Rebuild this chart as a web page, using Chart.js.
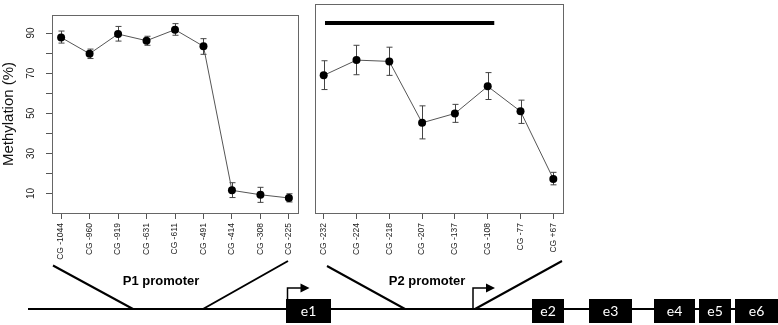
<!DOCTYPE html>
<html>
<head>
<meta charset="utf-8">
<script src="https://cdn.jsdelivr.net/npm/chart.js@4"></script>
<style>
  body { margin: 0; background: #fff; }
  #wrap { position: relative; width: 778px; height: 325px; }
  #wrap canvas { position: absolute; left: 0; top: 0; }
</style>
</head>
<body>
<div id="wrap">
  <canvas id="p1Chart" width="778" height="325"></canvas>
  <canvas id="p2Chart" width="778" height="325"></canvas>
</div>
<script>
// P1 promoter CpG sites
var p1Labels = ['CG -1044', 'CG -960', 'CG -919', 'CG -631', 'CG -611', 'CG -491', 'CG -414', 'CG -308', 'CG -225'];
var p1Mean = [87.8, 79.7, 89.5, 86.2, 91.7, 83.4, 11.6, 9.4, 7.8];
var p1Low = [85.0, 77.3, 86.0, 83.9, 88.9, 79.4, 8.0, 5.6, 5.8];
var p1High = [91.0, 82.0, 93.3, 88.4, 94.7, 87.2, 15.4, 13.1, 9.9];

// P2 promoter CpG sites
var p2Labels = ['CG -232', 'CG -224', 'CG -218', 'CG -207', 'CG -137', 'CG -108', 'CG -77', 'CG +67'];
var p2Mean = [65.3, 72.5, 71.9, 42.9, 47.3, 60.1, 48.3, 16.4];
var p2Low = [58.6, 65.6, 65.3, 35.3, 43.1, 53.9, 42.6, 13.6];
var p2High = [72.2, 79.5, 78.6, 50.9, 51.6, 66.6, 53.6, 19.5];

// black bar over the P2 sites (x in site index units, y in %)
var p2BarX = [1.04, 6.2];
var p2BarY = 90;

var yTicks = [10, 20, 30, 40, 50, 60, 70, 80, 90];
var yTickLabels = ['10', '', '30', '', '50', '', '70', '', '90'];

// gene map below the panels
var exonNames = ['e1', 'e2', 'e3', 'e4', 'e5', 'e6'];
var exonStart = [286, 532, 589, 654, 699, 735];
var exonEnd = [331, 564, 632, 695, 731, 778];

var axisGray = '#555';

function pts(vals) {
    return vals.map(function (v, i) { return { x: i + 1, y: v }; });
}

var errorBars = {
    id: 'errorBars',
    beforeDatasetsDraw: function (chart, args, opts) {
        var ctx = chart.ctx, xs = chart.scales.x, ys = chart.scales.y;
        ctx.save();
        ctx.strokeStyle = '#444';
        ctx.lineWidth = 1;
        opts.lo.forEach(function (lo, i) {
            var x = Math.round(xs.getPixelForValue(i + 1)) + 0.5;
            var y0 = ys.getPixelForValue(lo), y1 = ys.getPixelForValue(opts.hi[i]);
            ctx.beginPath();
            ctx.moveTo(x, y0); ctx.lineTo(x, y1);
            ctx.moveTo(x - 3, y0); ctx.lineTo(x + 3, y0);
            ctx.moveTo(x - 3, y1); ctx.lineTo(x + 3, y1);
            ctx.stroke();
        });
        ctx.restore();
    }
};

var boxPlugin = {
    id: 'box',
    afterDraw: function (chart) {
        var a = chart.chartArea, ctx = chart.ctx;
        ctx.save();
        ctx.strokeStyle = '#666';
        ctx.lineWidth = 1;
        ctx.strokeRect(Math.round(a.left) + 0.5, Math.round(a.top) + 0.5,
            Math.round(a.right - a.left), Math.round(a.bottom - a.top));
        ctx.restore();
    }
};

var geneMap = {
    id: 'geneMap',
    afterDraw: function (chart) {
        var ctx = chart.ctx;
        var lineY = 309;
        ctx.save();
        ctx.strokeStyle = '#000';
        ctx.lineWidth = 2;
        ctx.beginPath();
        ctx.moveTo(28, lineY); ctx.lineTo(778, lineY);
        // promoter zoom lines
        ctx.moveTo(53, 265.5); ctx.lineTo(133, lineY);
        ctx.moveTo(203, lineY); ctx.lineTo(288, 261);
        ctx.moveTo(327, 266); ctx.lineTo(405, lineY);
        ctx.moveTo(475, lineY); ctx.lineTo(562, 261);
        ctx.stroke();

        // transcription start arrows
        [[287.5, 288], [473, 288]].forEach(function (p) {
            ctx.lineWidth = 1.5;
            ctx.beginPath();
            ctx.moveTo(p[0], p[0] < 400 ? 299 : lineY);
            ctx.lineTo(p[0], p[1]);
            ctx.lineTo(p[0] + 14, p[1]);
            ctx.stroke();
            ctx.beginPath();
            ctx.moveTo(p[0] + 13, p[1] - 4.5);
            ctx.lineTo(p[0] + 22, p[1]);
            ctx.lineTo(p[0] + 13, p[1] + 4.5);
            ctx.closePath();
            ctx.fillStyle = '#000';
            ctx.fill();
        });

        // exons
        ctx.font = '14px Lato, "Open Sans", sans-serif';
        ctx.textAlign = 'center';
        ctx.textBaseline = 'middle';
        exonNames.forEach(function (n, i) {
            ctx.fillStyle = '#000';
            ctx.fillRect(exonStart[i], 299, exonEnd[i] - exonStart[i], 24);
            ctx.fillStyle = '#fff';
            ctx.fillText(n, (exonStart[i] + exonEnd[i]) / 2, 311);
        });

        ctx.fillStyle = '#000';
        ctx.font = 'bold 13px "Liberation Sans", Arial, sans-serif';
        ctx.fillText('P1 promoter', 161, 281);
        ctx.fillText('P2 promoter', 427, 281);
        ctx.restore();
    }
};

function xScale(labels) {
    var n = labels.length;
    var ext = (n - 1) * 0.04;
    return {
        type: 'linear',
        min: 1 - ext,
        max: n + ext,
        afterBuildTicks: function (s) {
            s.ticks = labels.map(function (l, i) { return { value: i + 1 }; });
        },
        afterFit: function (s) { s.height = 112; },
        grid: { drawOnChartArea: false, drawTicks: true, tickLength: 6, color: axisGray },
        border: { display: false },
        ticks: {
            autoSkip: false,
            minRotation: 90,
            maxRotation: 90,
            padding: 4,
            color: '#222',
            font: { family: '"Liberation Sans", Arial, sans-serif', size: 8.5 },
            callback: function (v) { return labels[Math.round(v) - 1]; }
        }
    };
}

var yMin = 0.3, yMax = 99;

var p1Ctx = document.getElementById('p1Chart').getContext('2d');
var p1Chart = new Chart(p1Ctx, {
    type: 'line',
    data: {
        datasets: [{
            data: pts(p1Mean),
            borderColor: axisGray,
            borderWidth: 1,
            pointRadius: 4,
            pointBackgroundColor: '#000',
            pointBorderWidth: 0
        }]
    },
    options: {
        responsive: false,
        animation: false,
        layout: { padding: { left: 0, right: 480, top: 2, bottom: 0 } },
        plugins: {
            legend: { display: false },
            tooltip: { enabled: false },
            errorBars: { lo: p1Low, hi: p1High }
        },
        scales: {
            x: xScale(p1Labels),
            y: {
                type: 'linear',
                min: yMin,
                max: yMax,
                afterBuildTicks: function (s) {
                    s.ticks = yTicks.map(function (v) { return { value: v }; });
                },
                afterFit: function (s) { s.width = 52; },
                grid: { drawOnChartArea: false, drawTicks: true, tickLength: 6, color: axisGray },
                border: { display: false },
                title: {
                    display: true,
                    text: 'Methylation (%)',
                    color: '#111',
                    padding: 0,
                    font: { family: '"Liberation Sans", Arial, sans-serif', size: 15 }
                },
                ticks: {
                    minRotation: 90,
                    maxRotation: 90,
                    crossAlign: 'center',
                    padding: 9,
                    color: '#222',
                    font: { family: '"Liberation Sans", Arial, sans-serif', size: 10 },
                    callback: function (v) { return yTickLabels[yTicks.indexOf(v)]; }
                }
            }
        }
    },
    plugins: [errorBars, boxPlugin, geneMap]
});

var p2Ctx = document.getElementById('p2Chart').getContext('2d');
var p2Chart = new Chart(p2Ctx, {
    type: 'line',
    data: {
        datasets: [{
            data: pts(p2Mean),
            borderColor: axisGray,
            borderWidth: 1,
            pointRadius: 4,
            pointBackgroundColor: '#000',
            pointBorderWidth: 0
        }, {
            data: p2BarX.map(function (x) { return { x: x, y: p2BarY }; }),
            borderColor: '#000',
            borderWidth: 4,
            borderCapStyle: 'butt',
            pointRadius: 0
        }]
    },
    options: {
        responsive: false,
        animation: false,
        layout: { padding: { left: 314.5, right: 215.5, top: 2, bottom: 0 } },
        plugins: {
            legend: { display: false },
            tooltip: { enabled: false },
            errorBars: { lo: p2Low, hi: p2High }
        },
        scales: {
            x: xScale(p2Labels),
            y: { type: 'linear', min: yMin, max: yMax, display: false }
        }
    },
    plugins: [errorBars, boxPlugin]
});
</script>
</body>
</html>
